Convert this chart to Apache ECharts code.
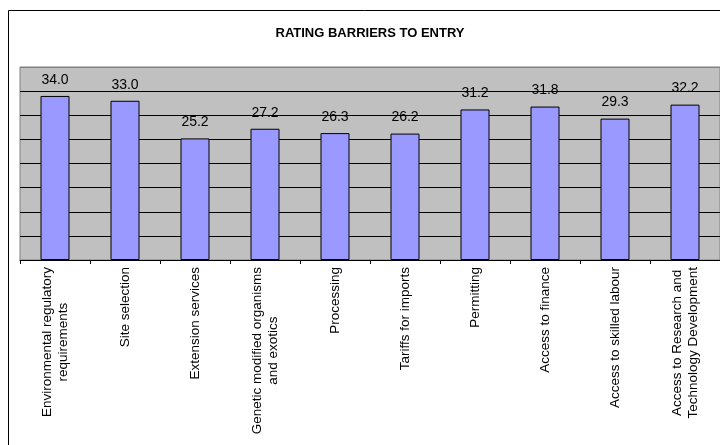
<!DOCTYPE html>
<html>
<head>
<meta charset="utf-8">
<title>Rating barriers to entry</title>
<script src="https://cdn.jsdelivr.net/npm/echarts@6/dist/echarts.min.js"></script>
<style>
  html, body { margin: 0; padding: 0; background: #ffffff; }
  #chart { width: 720px; height: 445px; }
</style>
</head>
<body>
<div id="chart"></div>
<script>
// Barrier categories (line breaks as shown on the axis)
const categories = [
  'Environmental regulatory\nrequirements',
  'Site selection',
  'Extension services',
  'Genetic modified organisms\nand exotics',
  'Processing',
  'Tariffs for imports',
  'Permitting',
  'Access to finance',
  'Access to skilled labour',
  'Access to Research and\nTechnology Development'
];

// Average rating per barrier
const ratings = [34.0, 33.0, 25.2, 27.2, 26.3, 26.2, 31.2, 31.8, 29.3, 32.2];

const chart = echarts.init(document.getElementById('chart'), null, { renderer: 'canvas' });

const FONT = 'Arial, "Liberation Sans", sans-serif';

// gridlines: black, except the top one which blends into the plot border
const gridColors = ['#000', '#000', '#000', '#000', '#000', '#000', '#000', '#000', '#808080'];

chart.setOption({
  backgroundColor: '#ffffff',
  animation: false,
  title: {
    text: 'RATING BARRIERS TO ENTRY',
    left: 365,
    top: 22,
    textAlign: 'center',
    textStyle: {
      fontFamily: FONT,
      fontSize: 13,
      fontWeight: 'bold',
      color: '#000'
    }
  },
  graphic: [{
    type: 'rect',
    shape: { x: 8.5, y: 10.5, width: 730, height: 450 },
    style: { fill: 'none', stroke: '#000', lineWidth: 1 },
    silent: true,
    z: 100
  }],
  grid: {
    left: 20,
    top: 67,
    width: 701,
    height: 193,
    show: true,
    backgroundColor: '#c0c0c0',
    borderColor: '#808080',
    borderWidth: 1
  },
  xAxis: {
    type: 'category',
    data: categories,
    axisLine: { show: true, lineStyle: { color: '#000', width: 1 } },
    axisTick: { show: true, length: 4, lineStyle: { color: '#000' } },
    axisLabel: {
      interval: 0,
      rotate: 90,
      margin: 7,
      color: '#000',
      fontFamily: FONT,
      fontSize: 13.5,
      lineHeight: 16,
      formatter: function (v) {
        return v.split('\n').map(function (l) { return '{c|' + l + '}'; }).join('\n');
      },
      rich: {
        c: {
          align: 'center',
          fontFamily: FONT,
          fontSize: 13.5,
          lineHeight: 16,
          color: '#000'
        }
      }
    }
  },
  yAxis: {
    type: 'value',
    min: 0,
    max: 40,
    interval: 5,
    axisLine: { show: false },
    axisTick: { show: false },
    axisLabel: { show: false },
    splitLine: { show: true, lineStyle: { color: gridColors, width: 1 } }
  },
  series: [{
    type: 'bar',
    data: ratings,
    barWidth: 29,
    itemStyle: {
      color: '#9999ff',
      borderColor: '#000',
      borderWidth: 1
    },
    label: {
      show: true,
      position: 'top',
      distance: 9,
      color: '#000',
      fontFamily: FONT,
      fontSize: 14,
      formatter: function (p) { return p.value.toFixed(1); }
    }
  }]
});
</script>
</body>
</html>
